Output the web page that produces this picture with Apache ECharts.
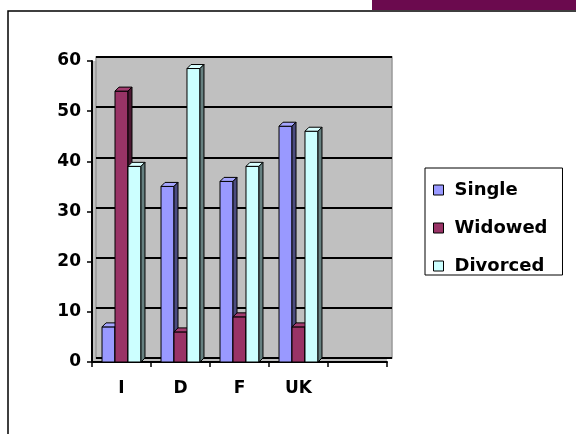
<!DOCTYPE html>
<html>
<head>
<meta charset="utf-8">
<script src="https://cdn.jsdelivr.net/npm/echarts@6/dist/echarts.min.js"></script>
<style>html,body{margin:0;padding:0;background:#fff}#c{width:576px;height:434px}</style>
</head>
<body>
<div id="c"></div>
<script>
var categories = ['I', 'D', 'F', 'UK', ''];
var seriesNames = ['Single', 'Widowed', 'Divorced'];
var single = [7, 35, 36, 47, null];
var widowed = [54, 6, 9, 7, null];
var divorced = [39, 58.5, 39, 46, null];
var yTicks = [0, 10, 20, 30, 40, 50, 60];

var frontColors = ['#9999FF', '#993366', '#CCFFFF'];
var topColors = ['#A6A6FF', '#A33D70', '#D9FFFF'];
var sideColors = ['#4C4C80', '#4C1933', '#668080'];
var DX = 4, DY = -4;

var chart = echarts.init(document.getElementById('c'), null, {renderer: 'canvas'});
var font = '"DejaVu Sans", Arial, sans-serif';

function makeRender(si) {
  return function (params, api) {
    var v = api.value(1);
    if (v == null || isNaN(v)) return;
    var band = api.size([1, 0])[0];
    var w = band * 0.22;
    var top = api.coord([api.value(0), v]);
    var base = api.coord([api.value(0), 0]);
    var x0 = top[0] - 1.5 * w + si * w;
    var yT = top[1], yB = base[1];
    var x1 = x0 + w;
    return {
      type: 'group',
      children: [
        {type: 'rect', shape: {x: x0, y: yT, width: w, height: yB - yT},
         style: {fill: frontColors[si], stroke: '#000', lineWidth: 1}},
        {type: 'polygon', shape: {points: [[x0, yT], [x0 + DX, yT + DY], [x1 + DX, yT + DY], [x1, yT]]},
         style: {fill: topColors[si], stroke: '#000', lineWidth: 1}},
        {type: 'polygon', shape: {points: [[x1, yT], [x1 + DX, yT + DY], [x1 + DX, yB + DY], [x1, yB]]},
         style: {fill: sideColors[si], stroke: '#000', lineWidth: 1}}
      ]
    };
  };
}

var dataSets = [single, widowed, divorced];
var series = dataSets.map(function (arr, si) {
  return {
    name: seriesNames[si],
    type: 'custom',
    xAxisIndex: 0, yAxisIndex: 0,
    renderItem: makeRender(si),
    itemStyle: {color: frontColors[si], borderColor: '#000', borderWidth: 1},
    data: arr.map(function (v, i) { return [i, v]; }),
    encode: {x: 0, y: 1},
    z: 3
  };
});

var option = {
  animation: false,
  backgroundColor: '#fff',
  graphic: [
    {type: 'rect', shape: {x: 8, y: 11, width: 600, height: 500}, style: {fill: 'none', stroke: '#000', lineWidth: 1.5}, z: 0},
    {type: 'rect', shape: {x: 372, y: 0, width: 210, height: 10}, style: {fill: '#6B0A4E'}, z: 0}
  ],
  legend: {
    orient: 'vertical',
    left: 425, top: 168,
    padding: [13, 15, 0, 8],
    itemGap: 20,
    itemWidth: 10, itemHeight: 10,
    borderColor: '#000', borderWidth: 1,
    icon: 'rect',
    data: seriesNames.map(function (n, i) {
      return {name: n, itemStyle: {color: frontColors[i], borderColor: '#000', borderWidth: 1}};
    }),
    textStyle: {fontFamily: font, fontWeight: 'bold', fontSize: 18, color: '#000', padding: [0, 0, 0, 6]}
  },
  grid: [
    {left: 92, right: 189, top: 61, bottom: 72, show: true, backgroundColor: '#C0C0C0', borderWidth: 0},
    {left: 96, right: 184, top: 57, bottom: 76, show: true, backgroundColor: '#C0C0C0', borderColor: '#999', borderWidth: 1.5}
  ],
  xAxis: [
    {type: 'category', gridIndex: 0, data: categories,
     axisLine: {lineStyle: {color: '#000', width: 2}},
     axisTick: {show: true, length: 5, lineStyle: {color: '#000', width: 1.5}},
     axisLabel: {fontFamily: font, fontWeight: 'bold', fontSize: 17, color: '#000', margin: 18}},
    {type: 'category', gridIndex: 1, data: categories, show: false}
  ],
  yAxis: [
    {type: 'value', gridIndex: 0, min: 0, max: 60, interval: 10,
     axisLine: {show: true, lineStyle: {color: '#000', width: 2}},
     axisTick: {show: true, length: 5, lineStyle: {color: '#000', width: 1.5}},
     splitLine: {show: false},
     axisLabel: {fontFamily: font, fontWeight: 'bold', fontSize: 17, color: '#000', margin: 11,
       formatter: function (v) { return yTicks.indexOf(v) >= 0 ? String(v) : ''; }}},
    {type: 'value', gridIndex: 1, min: 0, max: 60, interval: 10,
     axisLine: {show: false}, axisTick: {show: false}, axisLabel: {show: false},
     splitLine: {show: true, lineStyle: {color: '#000', width: 2}}}
  ],
  series: series
};
chart.setOption(option);
</script>
</body>
</html>
